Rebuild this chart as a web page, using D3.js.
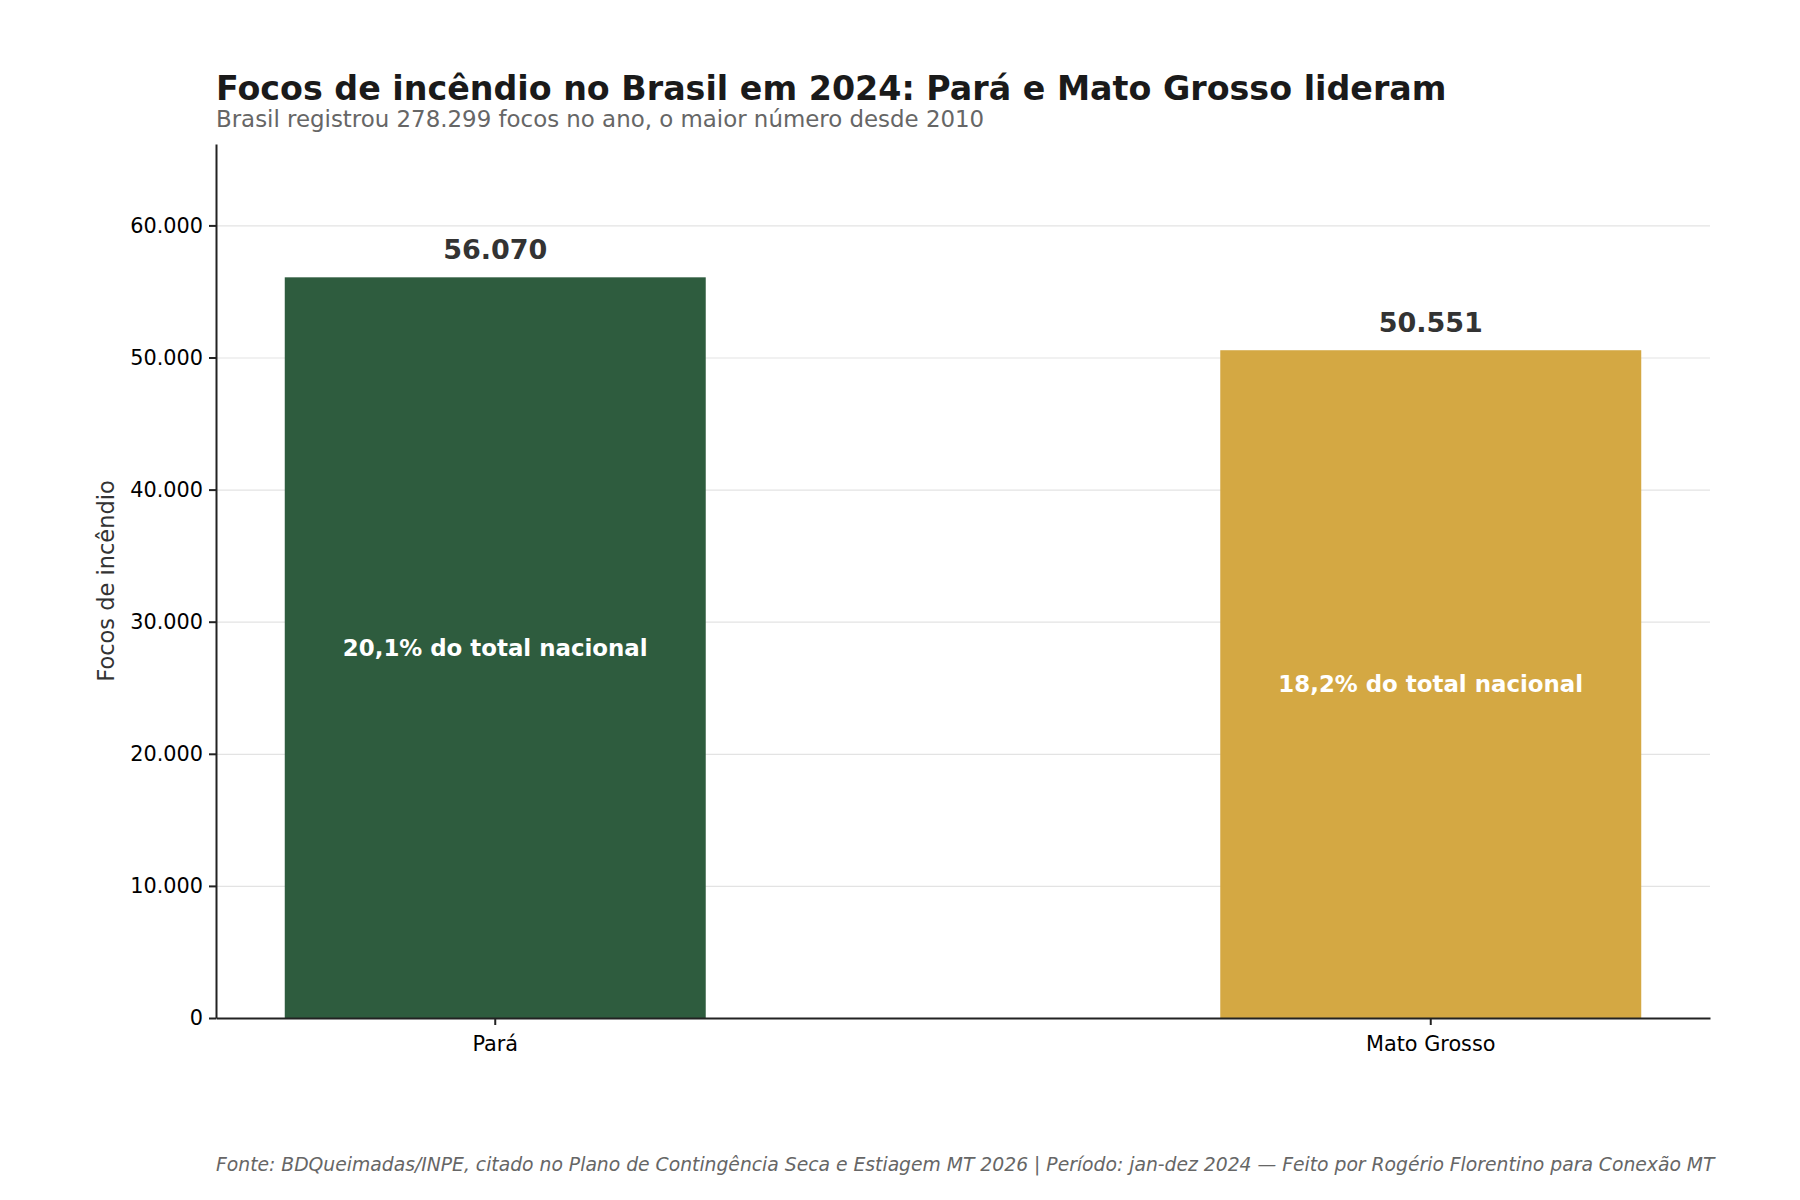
<!DOCTYPE html>
<html>
<head>
<meta charset="utf-8">
<script src="https://cdn.jsdelivr.net/npm/d3@7"></script>
<style>
  body { margin: 0; background: #fff; }
  svg { font-family: "DejaVu Sans", sans-serif; }
  .title { font-size: 33.3px; font-weight: bold; fill: #1a1a1a; }
  .subtitle { font-size: 22.9px; fill: #666; }
  .footer { font-size: 18.75px; font-style: italic; fill: #666; }
  .ylabel { font-size: 22.5px; fill: #333; }
  .value { font-size: 27px; font-weight: bold; fill: #333; }
  .inside { font-size: 22.9px; font-weight: bold; fill: #fff; }
  .axis text { font-size: 20.8px; fill: #000; font-family: "DejaVu Sans", sans-serif; }
  .axis path, .axis line { stroke: #222; stroke-width: 2; }
  .grid line { stroke: #e3e3e3; stroke-width: 1.2; }
  .grid path { display: none; }
</style>
</head>
<body>
<svg width="1800" height="1200"></svg>
<script>
// dados
var states = ["Pará", "Mato Grosso"];
var focos = [56070, 50551];
var shares = ["20,1% do total nacional", "18,2% do total nacional"];
var colors = ["#2E5C3E", "#D4A843"];
var yTicks = [0, 10000, 20000, 30000, 40000, 50000, 60000];

var svg = d3.select("svg");
var margin = { left: 216, top: 144, right: 90, bottom: 182 };
var width = 1800 - margin.left - margin.right;
var height = 1200 - margin.top - margin.bottom;

var data = states.map(function(s, i) {
    return { state: s, value: focos[i], share: shares[i], color: colors[i] };
});

var fmt = function(v) { return d3.format(",")(v).replace(/,/g, "."); };

var xScale = d3.scaleBand()
    .domain(states)
    .range([0, width])
    .paddingInner(0.55)
    .paddingOuter(0.0735);
var yScale = d3.scaleLinear()
    .domain([0, d3.max(focos) * 1.18])
    .range([height, 0]);

var g = svg.append("g")
    .attr("transform", "translate(" + margin.left + "," + margin.top + ")");

// grade
g.append("g")
    .attr("class", "grid")
    .call(d3.axisLeft(yScale).tickValues(yTicks).tickSize(-width).tickFormat(""));

g.selectAll(".bar")
    .data(data)
    .enter()
    .append("rect")
    .attr("class", "bar")
    .attr("x", (d) => xScale(d.state))
    .attr("y", (d) => yScale(d.value))
    .attr("width", xScale.bandwidth())
    .attr("height", (d) => height - yScale(d.value))
    .attr("fill", (d) => d.color);

g.selectAll(".value")
    .data(data)
    .enter()
    .append("text")
    .attr("class", "value")
    .attr("text-anchor", "middle")
    .attr("x", (d) => xScale(d.state) + xScale.bandwidth() / 2)
    .attr("y", (d) => yScale(d.value) - 18)
    .text((d) => fmt(d.value));

g.selectAll(".inside")
    .data(data)
    .enter()
    .append("text")
    .attr("class", "inside")
    .attr("text-anchor", "middle")
    .attr("dominant-baseline", "central")
    .attr("x", (d) => xScale(d.state) + xScale.bandwidth() / 2)
    .attr("y", (d) => yScale(d.value / 2))
    .text((d) => d.share);

g.append("g")
    .attr("class", "axis")
    .attr("transform", "translate(0," + height + ")")
    .call(d3.axisBottom(xScale).tickSize(7).tickPadding(11).tickSizeOuter(0));

g.append("g")
    .attr("class", "axis")
    .call(d3.axisLeft(yScale).tickValues(yTicks).tickFormat(fmt).tickSize(7).tickPadding(6).tickSizeOuter(0));

g.append("text")
    .attr("class", "ylabel")
    .attr("transform", "translate(-102," + height / 2 + ") rotate(-90)")
    .attr("text-anchor", "middle")
    .text("Focos de incêndio");

svg.append("text")
    .attr("class", "title")
    .attr("x", margin.left)
    .attr("y", 100)
    .text("Focos de incêndio no Brasil em 2024: Pará e Mato Grosso lideram");

svg.append("text")
    .attr("class", "subtitle")
    .attr("x", margin.left)
    .attr("y", 127)
    .text("Brasil registrou 278.299 focos no ano, o maior número desde 2010");

svg.append("text")
    .attr("class", "footer")
    .attr("x", margin.left)
    .attr("y", 1171)
    .text("Fonte: BDQueimadas/INPE, citado no Plano de Contingência Seca e Estiagem MT 2026 | Período: jan-dez 2024 — Feito por Rogério Florentino para Conexão MT");
</script>
</body>
</html>
